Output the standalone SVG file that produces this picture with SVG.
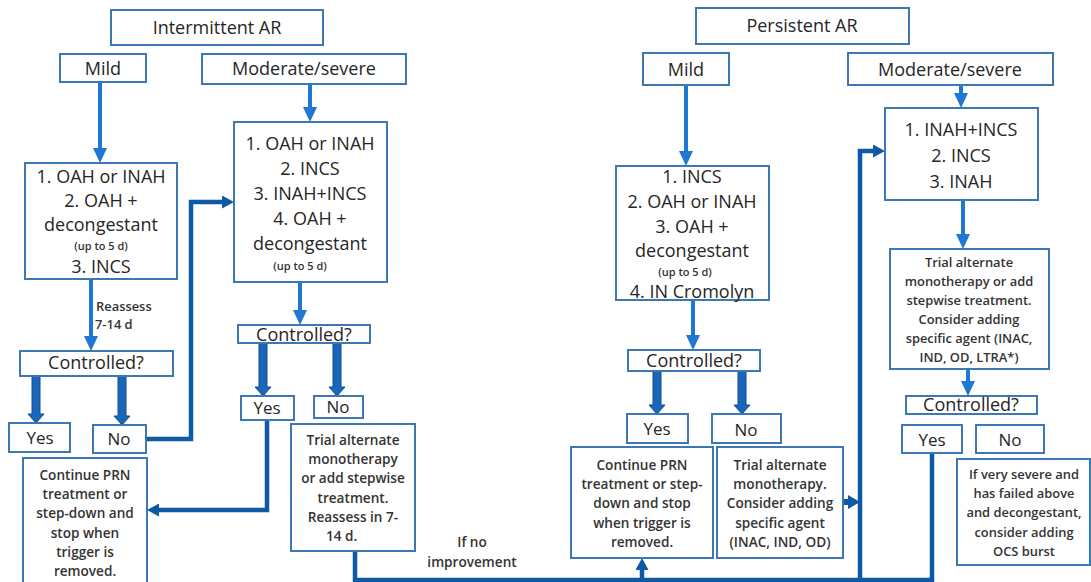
<svg xmlns="http://www.w3.org/2000/svg" width="1091" height="582" viewBox="0 0 1091 582">
<defs>
<style>
.box{fill:#fff;stroke:#3b78b5;stroke-width:2}
.t{font-family:'Open Sans','Liberation Sans',sans-serif;fill:#262626;text-anchor:middle}
.s18{font-size:18px}.s17{font-size:17px}.s14{font-size:13.6px;font-weight:600;fill:#333}.s13{font-size:12.9px;font-weight:600;fill:#333}.s11{font-size:11px;font-weight:600;fill:#333}
.thin{stroke:#1f78d1;stroke-width:4;fill:none}
.conn{stroke:#0d59a5;stroke-width:4.5;fill:none}
.block{fill:#1a66b8;stroke:#0e4d91;stroke-width:1}
.head{fill:#0d59a5}
</style>
<marker id="ah" markerUnits="userSpaceOnUse" markerWidth="15" markerHeight="14" refX="7" refY="7" orient="auto"><path d="M0,0 L15,7 L0,14 z" fill="#1f78d1"/></marker>
<marker id="ch" markerUnits="userSpaceOnUse" markerWidth="13" markerHeight="13" refX="4" refY="6.5" orient="auto"><path d="M0,0 L12,6.5 L0,13 z" fill="#0d59a5"/></marker>
</defs>
<rect width="1091" height="582" fill="#fff"/>

<g id="connectors">
<line class="thin" x1="100" y1="82" x2="100" y2="155" marker-end="url(#ah)"/>
<line class="thin" x1="310" y1="84" x2="310" y2="114" marker-end="url(#ah)"/>
<line class="thin" x1="91" y1="279" x2="91" y2="343" marker-end="url(#ah)"/>
<line class="thin" x1="300" y1="282" x2="300" y2="317" marker-end="url(#ah)"/>
<line class="thin" x1="686" y1="85" x2="686" y2="158" marker-end="url(#ah)"/>
<line class="thin" x1="961" y1="85" x2="961" y2="100" marker-end="url(#ah)"/>
<line class="thin" x1="963" y1="200" x2="963" y2="241" marker-end="url(#ah)"/>
<line class="thin" x1="693" y1="300" x2="693" y2="342" marker-end="url(#ah)"/>
<line class="thin" x1="968" y1="369" x2="968" y2="388" marker-end="url(#ah)"/>
<polygon class="block" points="32,376 40,376 40,414 44,414 36,423 28,414 32,414"/>
<polygon class="block" points="118,376 126,376 126,416 130,416 122,425 114,416 118,416"/>
<polygon class="block" points="259,343 267,343 267,387 271,387 263,396 255,387 259,387"/>
<polygon class="block" points="333,343 341,343 341,387 345,387 337,396 329,387 333,387"/>
<polygon class="block" points="653,371 661,371 661,405 665,405 657,414 649,405 653,405"/>
<polygon class="block" points="738,371 746,371 746,405 750,405 742,414 734,405 738,405"/>
<path class="conn" d="M146,439 H191 V202 H226" marker-end="url(#ch)"/>
<path class="conn" d="M267,420 V510 H155" marker-end="url(#ch)"/>
<path class="conn" d="M355,551 V580 H932 V453"/>
<path class="conn" d="M642,580 V566" marker-end="url(#ch)"/>
<path class="conn" d="M860,580 V151 H877" marker-end="url(#ch)"/>
<polygon class="head" points="843,499 848,499 848,495 860,502 848,509 848,505 843,505"/>
<text class="t s14" x="472" y="547">If no</text>
<text class="t s14" x="472" y="567">improvement</text>
<text class="t s13" x="96" y="311" style="text-anchor:start">Reassess</text>
<text class="t s13" x="95" y="329" style="text-anchor:start">7-14 d</text>
</g>

<g id="intermittent-ar"><rect class="box" x="111" y="10" width="212" height="35"/><text class="t s18" x="217" y="34">Intermittent AR</text></g>
<g id="i-mild"><rect class="box" x="60" y="54" width="86" height="28"/><text class="t s18" x="103" y="75">Mild</text></g>
<g id="i-modsev"><rect class="box" x="202" y="54" width="204" height="30"/><text class="t s18" x="304" y="75">Moderate/severe</text></g>
<g id="i-mild-tx"><rect class="box" x="25" y="163" width="152" height="116"/>
<text class="t s18" x="101" y="183">1. OAH or INAH</text>
<text class="t s18" x="101" y="207">2. OAH +</text>
<text class="t s18" x="101" y="231">decongestant</text>
<text class="t s11" x="101" y="250">(up to 5 d)</text>
<text class="t s18" x="101" y="273">3. INCS</text></g>
<g id="i-mod-tx"><rect class="box" x="234" y="122" width="153" height="160"/>
<text class="t s18" x="310" y="150">1. OAH or INAH</text>
<text class="t s18" x="310" y="175">2. INCS</text>
<text class="t s18" x="310" y="200">3. INAH+INCS</text>
<text class="t s18" x="310" y="225">4. OAH +</text>
<text class="t s18" x="310" y="250">decongestant</text>
<text class="t s11" x="300" y="270">(up to 5 d)</text></g>
<g id="i-mild-ctrl"><rect class="box" x="20" y="351" width="153" height="25"/><text class="t s18" x="96" y="369">Controlled?</text></g>
<g id="i-mild-yes"><rect class="box" x="9" y="423" width="61" height="29"/><text class="t s17" x="40" y="444">Yes</text></g>
<g id="i-mild-no"><rect class="box" x="93" y="425" width="53" height="28"/><text class="t s17" x="119" y="445">No</text></g>
<g id="i-continue"><rect class="box" x="23" y="458" width="124" height="135"/>
<text class="t s14" x="85" y="480">Continue PRN</text>
<text class="t s14" x="85" y="499">treatment or</text>
<text class="t s14" x="85" y="518">step-down and</text>
<text class="t s14" x="85" y="538">stop when</text>
<text class="t s14" x="85" y="557">trigger is</text>
<text class="t s14" x="85" y="576">removed.</text></g>
<g id="i-mod-ctrl"><rect class="box" x="238" y="325" width="132" height="18"/><text class="t s18" x="304" y="341">Controlled?</text></g>
<g id="i-mod-yes"><rect class="box" x="241" y="396" width="53" height="24"/><text class="t s17" x="267" y="414">Yes</text></g>
<g id="i-mod-no"><rect class="box" x="314" y="396" width="49" height="22"/><text class="t s17" x="338" y="413">No</text></g>
<g id="i-trial"><rect class="box" x="291" y="424" width="124" height="127"/>
<text class="t s14" x="353" y="445">Trial alternate</text>
<text class="t s14" x="353" y="464">monotherapy</text>
<text class="t s14" x="353" y="483">or add stepwise</text>
<text class="t s14" x="353" y="503">treatment.</text>
<text class="t s14" x="353" y="522">Reassess in 7-</text>
<text class="t s14" x="326" y="541" style="text-anchor:start">14 d.</text></g>

<g id="persistent-ar"><rect class="box" x="696" y="8" width="213" height="36"/><text class="t s18" x="802" y="32">Persistent AR</text></g>
<g id="p-mild"><rect class="box" x="643" y="53" width="86" height="32"/><text class="t s18" x="686" y="76">Mild</text></g>
<g id="p-modsev"><rect class="box" x="848" y="53" width="205" height="32"/><text class="t s18" x="950" y="76">Moderate/severe</text></g>
<g id="p-mild-tx"><rect class="box" x="616" y="166" width="153" height="134"/>
<text class="t s18" x="692" y="183">1. INCS</text>
<text class="t s18" x="692" y="208">2. OAH or INAH</text>
<text class="t s18" x="692" y="233">3. OAH +</text>
<text class="t s18" x="692" y="257">decongestant</text>
<text class="t s11" x="685" y="276">(up to 5 d)</text>
<text class="t s18" x="692" y="298">4. IN Cromolyn</text></g>
<g id="p-mod-tx"><rect class="box" x="885" y="108" width="153" height="92"/>
<text class="t s18" x="961" y="136">1. INAH+INCS</text>
<text class="t s18" x="961" y="162">2. INCS</text>
<text class="t s18" x="961" y="188">3. INAH</text></g>
<g id="p-mod-trial"><rect class="box" x="890" y="249" width="159" height="120"/>
<text class="t s13" x="969" y="267">Trial alternate</text>
<text class="t s13" x="969" y="286">monotherapy or add</text>
<text class="t s13" x="969" y="305">stepwise treatment.</text>
<text class="t s13" x="969" y="324">Consider adding</text>
<text class="t s13" x="969" y="343">specific agent (INAC,</text>
<text class="t s13" x="969" y="362">IND, OD, LTRA*)</text></g>
<g id="p-mod-ctrl"><rect class="box" x="906" y="396" width="131" height="18"/><text class="t s18" x="971" y="411">Controlled?</text></g>
<g id="p-mod-yes"><rect class="box" x="902" y="425" width="60" height="28"/><text class="t s17" x="932" y="446">Yes</text></g>
<g id="p-mod-no"><rect class="box" x="976" y="425" width="68" height="28"/><text class="t s17" x="1010" y="446">No</text></g>
<g id="p-ocs"><rect class="box" x="957" y="459" width="133" height="106"/>
<text class="t s13" x="1024" y="479">If very severe and</text>
<text class="t s13" x="1024" y="498">has failed above</text>
<text class="t s13" x="1024" y="517">and decongestant,</text>
<text class="t s13" x="1024" y="537">consider adding</text>
<text class="t s13" x="1024" y="556">OCS burst</text></g>
<g id="p-mild-ctrl"><rect class="box" x="628" y="350" width="132" height="21"/><text class="t s18" x="694" y="367">Controlled?</text></g>
<g id="p-mild-yes"><rect class="box" x="627" y="414" width="61" height="29"/><text class="t s17" x="657" y="435">Yes</text></g>
<g id="p-mild-no"><rect class="box" x="712" y="414" width="69" height="29"/><text class="t s17" x="746" y="436">No</text></g>
<g id="p-continue"><rect class="box" x="571" y="447" width="142" height="111"/>
<text class="t s14" x="642" y="470">Continue PRN</text>
<text class="t s14" x="642" y="489">treatment or step-</text>
<text class="t s14" x="642" y="508">down and stop</text>
<text class="t s14" x="642" y="528">when trigger is</text>
<text class="t s14" x="642" y="547">removed.</text></g>
<g id="p-trial"><rect class="box" x="717" y="447" width="126" height="111"/>
<text class="t s14" x="780" y="470">Trial alternate</text>
<text class="t s14" x="780" y="489">monotherapy.</text>
<text class="t s14" x="780" y="508">Consider adding</text>
<text class="t s14" x="780" y="528">specific agent</text>
<text class="t s14" x="780" y="547">(INAC, IND, OD)</text></g>
</svg>
